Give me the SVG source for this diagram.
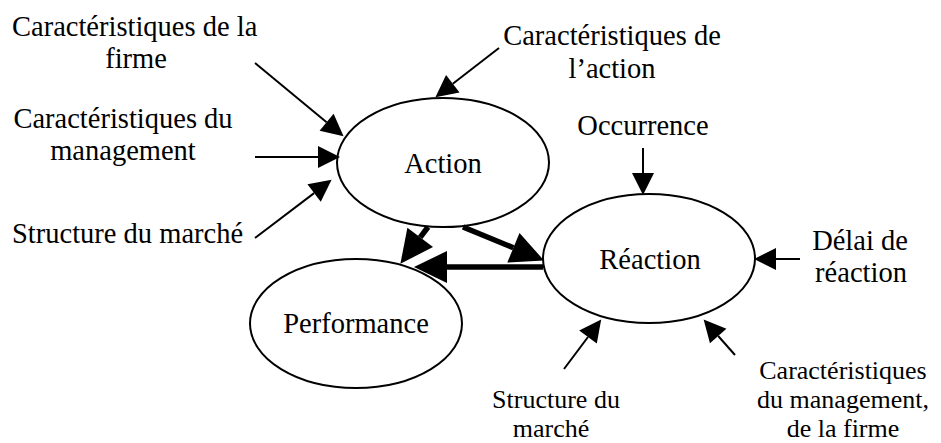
<svg xmlns="http://www.w3.org/2000/svg" width="941" height="443" viewBox="0 0 941 443">
<style>
text{font-family:'Liberation Serif','Times New Roman',Tinos,'DejaVu Serif',serif;font-size:28.5px;fill:#000}
.m{text-anchor:middle}
.s{font-size:26px}
.node ellipse{fill:#fff;stroke:#000;stroke-width:2}
.thin{stroke:#000;stroke-width:2;fill:none;marker-end:url(#ah)}
.thick{stroke:#000;stroke-width:5.5;fill:none;marker-end:url(#ahb)}
</style>
<defs>
<marker id="ah" markerUnits="userSpaceOnUse" markerWidth="22" markerHeight="22" refX="0" refY="10" orient="auto" viewBox="0 0 20 20" overflow="visible">
<path d="M0,0 L20,10 L0,20 Z" fill="#000"/>
</marker>
<marker id="ahb" markerUnits="userSpaceOnUse" markerWidth="34" markerHeight="32" refX="0" refY="15.5" orient="auto" viewBox="0 0 32 31" overflow="visible">
<path d="M0,0 L32,15.5 L0,31 Z" fill="#000"/>
</marker>
</defs>
<g id="action" class="node">
<ellipse cx="443" cy="162.5" rx="106" ry="64.5"/>
<text class="m" x="443" y="173">Action</text>
</g>
<g id="reaction" class="node">
<ellipse cx="649" cy="258.5" rx="106" ry="64.5"/>
<text class="m" x="650" y="269">Réaction</text>
</g>
<g id="performance" class="node">
<ellipse cx="356" cy="323.5" rx="106" ry="64.5"/>
<text class="m" x="356" y="333">Performance</text>
</g>
<g id="labels">
<text x="12" y="36">Caractéristiques de la</text>
<text class="m" x="136" y="68">firme</text>
<text class="m" x="123" y="128">Caractéristiques du</text>
<text class="m" x="123" y="160">management</text>
<text x="12" y="243">Structure du marché</text>
<text class="m" x="612" y="45">Caractéristiques de</text>
<text class="m" x="612" y="78">l’action</text>
<text class="m" x="643" y="135">Occurrence</text>
<text class="m" x="860" y="250">Délai de</text>
<text class="m" x="861" y="282">réaction</text>
<text class="m s" x="556" y="408">Structure du</text>
<text class="m s" x="551" y="437">marché</text>
<text class="m s" x="843" y="379">Caractéristiques</text>
<text class="m s" x="843" y="408">du management,</text>
<text class="m s" x="843" y="437">de la firme</text>
</g>
<g id="connectors">
<line class="thin" x1="255" y1="63" x2="326.6" y2="122.2"/>
<line class="thin" x1="255" y1="157" x2="318" y2="157"/>
<line class="thin" x1="255" y1="238" x2="314.1" y2="193.1"/>
<line class="thin" x1="499" y1="48" x2="452.8" y2="83.8"/>
<line class="thin" x1="643" y1="148" x2="643" y2="173"/>
<line class="thin" x1="800" y1="259" x2="776" y2="259"/>
<line class="thin" x1="564" y1="369" x2="588" y2="337"/>
<line class="thin" x1="735" y1="355" x2="718.2" y2="336"/>
<line class="thick" x1="428" y1="227" x2="420.2" y2="237.4"/>
<line class="thick" x1="463" y1="227" x2="513.4" y2="247.8"/>
<line class="thick" x1="543" y1="267" x2="447" y2="267"/>
</g>
</svg>
